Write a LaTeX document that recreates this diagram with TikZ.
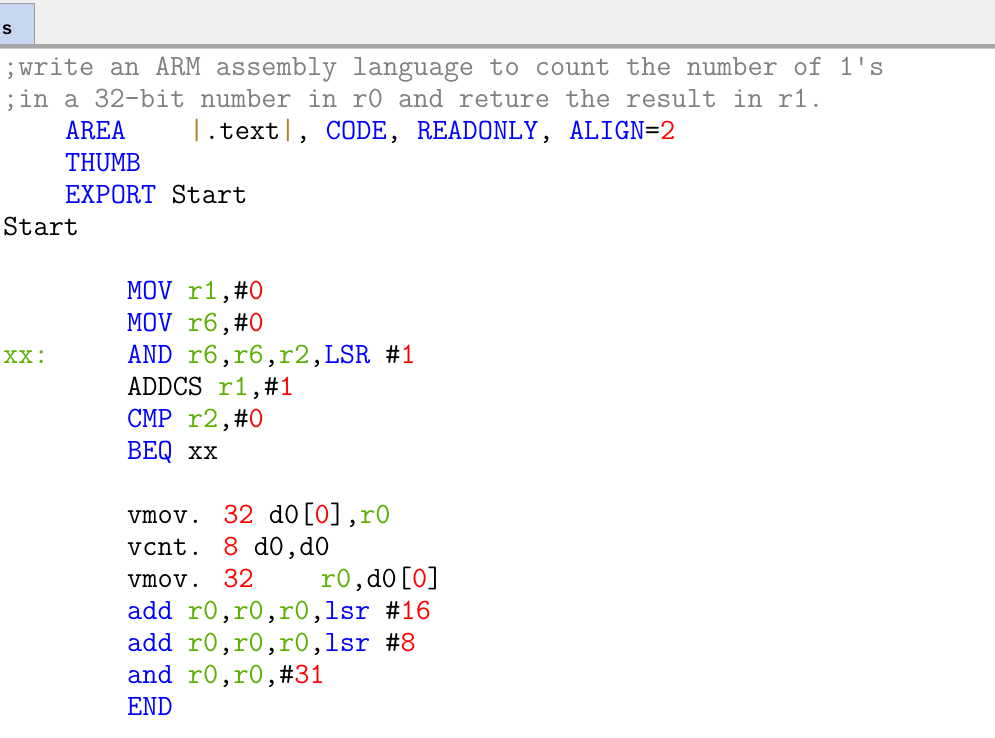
\documentclass[tikz,border=0pt]{standalone}
\usepackage{fontspec}
\setsansfont{Liberation Sans}
\definecolor{kw}{RGB}{0,0,255}
\definecolor{rg}{RGB}{90,175,0}
\definecolor{nm}{RGB}{255,0,0}
\definecolor{cm}{RGB}{128,128,128}
\definecolor{br}{RGB}{170,130,40}
\definecolor{hdr}{RGB}{240,240,240}
\definecolor{tabc}{RGB}{200,215,240}
\newcommand{\K}[1]{\textcolor{kw}{#1}}
\newcommand{\R}[1]{\textcolor{rg}{#1}}
\newcommand{\N}[1]{\textcolor{nm}{#1}}
\newcommand{\C}[1]{\textcolor{cm}{#1}}
\tikzset{code/.style={anchor=base west,inner sep=0pt,font=\ttfamily\fontsize{29.5}{32}\selectfont}}
\newcommand{\Ln}[4]{\node[code] (#1) at ({3+15.5*#3},{-75-32*#2}) {#4};}
\begin{document}
\begin{tikzpicture}[x=1pt,y=1pt]
\useasboundingbox (0,0) rectangle (995,-737);
\fill[white] (0,0) rectangle (995,-737);
\fill[hdr] (0,0) rectangle (995,-45);
\draw[gray!80,fill=tabc] (-2,-45) -- (-2,-3) -- (34,-3) -- (34,-45);
\node[anchor=base west,inner sep=0pt,font=\sffamily\bfseries\fontsize{18}{20}\selectfont] (tab) at (2,-34) {s};
\fill[gray!70] (0,-44) rectangle (995,-48);
\fill[gray!40] (0,-48) rectangle (995,-49);
\Ln{l0}{0}{0}{\C{;write an ARM assembly language to count the number of 1's}}
\Ln{l1}{1}{0}{\C{;in a 32-bit number in r0 and reture the result in r1.}}
\Ln{l2}{2}{4}{\K{AREA}}
\Ln{l2b}{2}{12}{\textcolor{br}{|}.text\textcolor{br}{|}, \K{CODE}, \K{READONLY}, \K{ALIGN}=\N{2}}
\Ln{l3}{3}{4}{\K{THUMB}}
\Ln{l4}{4}{4}{\K{EXPORT} Start}
\Ln{l5}{5}{0}{Start}
\Ln{l7}{7}{8}{\K{MOV} \R{r1},\#\N{0}}
\Ln{l8}{8}{8}{\K{MOV} \R{r6},\#\N{0}}
\Ln{l9a}{9}{0}{\R{xx:}}
\Ln{l9}{9}{8}{\K{AND} \R{r6},\R{r6},\R{r2},\K{LSR} \#\N{1}}
\Ln{l10}{10}{8}{ADDCS \R{r1},\#\N{1}}
\Ln{l11}{11}{8}{\K{CMP} \R{r2},\#\N{0}}
\Ln{l12}{12}{8}{\K{BEQ} xx}
\Ln{l14}{14}{8}{vmov. \N{32} d0[\N{0}],\R{r0}}
\Ln{l15}{15}{8}{vcnt. \N{8} d0,d0}
\Ln{l16}{16}{8}{vmov. \N{32}}
\Ln{l16b}{16}{20.5}{\R{r0},d0[\N{0}]}
\Ln{l17}{17}{8}{\K{add} \R{r0},\R{r0},\R{r0},\K{lsr} \#\N{16}}
\Ln{l18}{18}{8}{\K{add} \R{r0},\R{r0},\R{r0},\K{lsr} \#\N{8}}
\Ln{l19}{19}{8}{\K{and} \R{r0},\R{r0},\#\N{31}}
\Ln{l20}{20}{8}{\K{END}}
\end{tikzpicture}
\end{document}
